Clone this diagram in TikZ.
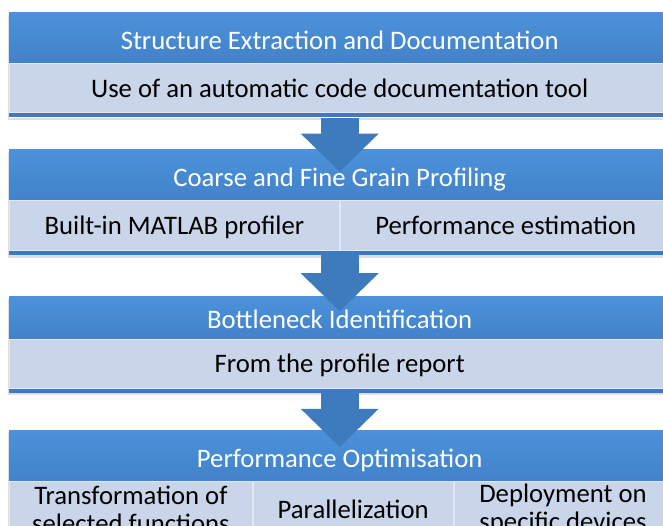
\documentclass[tikz,border=0pt]{standalone}
\usepackage{fontspec}
\setmainfont{Carlito}
\usetikzlibrary{arrows.meta,positioning,fit,shadows,backgrounds}
\definecolor{headtop}{HTML}{4B92DA}
\definecolor{headbot}{HTML}{4282CA}
\definecolor{panelblue}{HTML}{C9D5E9}
\definecolor{panelline}{HTML}{E2E8F3}
\definecolor{barblue}{HTML}{3D7AC0}
\definecolor{arrowblue}{HTML}{3E7BBD}

\begin{document}
\begin{tikzpicture}[x=1pt,y=1pt,
	  every node/.style={align=center,inner sep=0pt,font=\fontsize{26.7}{28}\selectfont},
	  header/.style={top color=headtop,bottom color=headbot,text=white,minimum width=661pt,text height=29pt,text depth=6pt},
	  panel/.style={fill=panelblue,draw=panelline,line width=0.8pt,text=black},
	  oneline/.style={text height=24pt,text depth=6pt},
	  bar/.style={fill=barblue,minimum width=661pt,minimum height=4pt},
	  flow/.style={draw=arrowblue,line width=38pt,-{Triangle[width=78pt,length=38pt,line width=0pt]}}]

	  \useasboundingbox (0,0) rectangle (663,-525);

	  % Stage 1
	  \node[header,minimum height=51pt,anchor=north west] (head1) at (9,-12) {Structure Extraction and Documentation};
	  \node[panel,oneline,minimum width=661pt,minimum height=49pt,below=0pt of head1] (doctool) {Use of an automatic code documentation tool};
	  \node[bar,below=0pt of doctool] (bar1) {};

	  % Stage 2
	  \node[header,minimum height=50pt,below=32pt of bar1] (head2) {Coarse and Fine Grain Profiling};
	  \node[panel,oneline,minimum width=330pt,minimum height=50pt,anchor=north west] (matlab) at (head2.south west) {Built-in MATLAB profiler};
	  \node[panel,oneline,minimum width=331pt,minimum height=50pt,right=0pt of matlab] (estim) {Performance estimation};
	  \node[bar,anchor=north west] (bar2) at (matlab.south west) {};

	  % Stage 3
	  \node[header,minimum height=42pt,below=41pt of bar2] (head3) {Bottleneck Identification};
	  \node[panel,oneline,minimum width=661pt,minimum height=49pt,below=0pt of head3] (report) {From the profile report};
	  \node[bar,below=0pt of report] (bar3) {};

	  % Stage 4
	  \node[header,minimum height=51pt,below=37pt of bar3] (head4) {Performance Optimisation};
	  \node[panel,minimum width=243pt,minimum height=56pt,anchor=north west] (transf) at (head4.south west) {Transformation of\\selected functions};
	  \node[panel,minimum width=200pt,minimum height=56pt,right=0pt of transf] (para) {Parallelization};
	  \node[panel,minimum width=218pt,minimum height=56pt,right=0pt of para] (deploy) {Deployment on\\specific devices};

	  % shadows behind the stages
	  \begin{scope}[on background layer]
	    \foreach \hd/\ft in {head1/bar1,head2/bar2,head3/bar3,head4/deploy}
	      \node[fit=(\hd)(\ft),fill=white,drop shadow={shadow xshift=-1.5pt,shadow yshift=-2.5pt,opacity=0.25}] {};
	  \end{scope}

	  % block arrows between the stages
	  \draw[flow] (bar1.south) -- ([yshift=-22pt]head2.north);
	  \draw[flow] (bar2.south) -- ([yshift=-15pt]head3.north);
	  \draw[flow] (bar3.south) -- ([yshift=-17pt]head4.north);

\end{tikzpicture}
\end{document}
